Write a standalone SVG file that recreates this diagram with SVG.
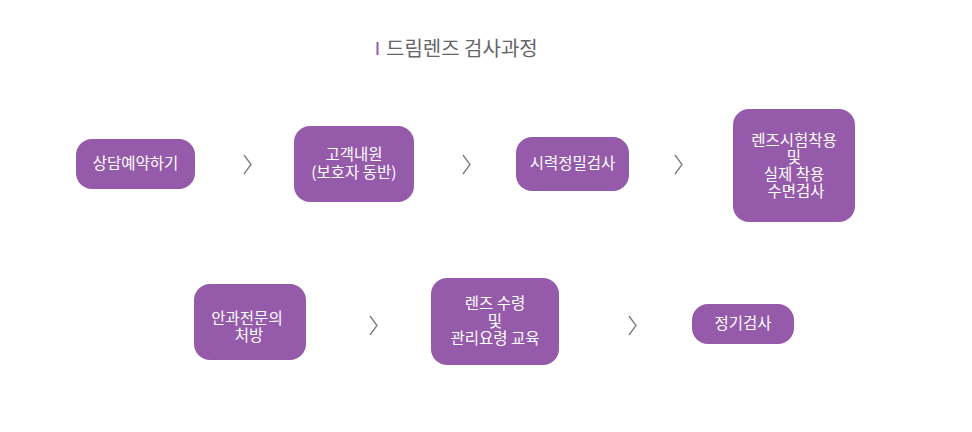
<svg xmlns="http://www.w3.org/2000/svg" width="972" height="432" viewBox="0 0 972 432">
<style>
.box{fill:#955BAA}
.t{font-family:"Noto Sans CJK KR","Noto Sans",sans-serif;font-size:15.5px;fill:#fff;text-anchor:middle}
.chev{fill:none;stroke:#7a7a7a;stroke-width:1.3}
.title{font-family:"Noto Sans CJK KR","Noto Sans",sans-serif;font-size:20px;fill:#666}
</style>
<rect width="972" height="432" fill="#fff"/>
<g id="title">
<rect x="376.5" y="42" width="2" height="13" fill="#955BAA"/>
<text class="title" x="386" y="56">드림렌즈 검사과정</text>
</g>
<g id="connectors">
<polyline class="chev" points="244,155 251,164.5 244,174"/>
<polyline class="chev" points="463,155 470,164.5 463,174"/>
<polyline class="chev" points="675,155 682,164.5 675,174"/>
<polyline class="chev" points="370,316 377,325.5 370,335"/>
<polyline class="chev" points="629,316 636,325.5 629,335"/>
</g>
<g id="n1"><rect class="box" x="76" y="139" width="119" height="50" rx="16"/><text class="t" x="135.5" y="169">상담예약하기</text></g>
<g id="n2"><rect class="box" x="294" y="126" width="120" height="76" rx="16"/><text class="t" x="354" y="160">고객내원</text><text class="t" x="354" y="177.5">(보호자 동반)</text></g>
<g id="n3"><rect class="box" x="516" y="137" width="113" height="54" rx="16"/><text class="t" x="572.5" y="169">시력정밀검사</text></g>
<g id="n4"><rect class="box" x="733" y="109" width="122" height="113" rx="16"/><text class="t" x="794" y="145.5">렌즈시험착용</text><text class="t" x="794" y="162.5">및</text><text class="t" x="794" y="179.5">실제 착용</text><text class="t" x="796" y="197">수면검사</text></g>
<g id="n5"><rect class="box" x="194" y="284" width="112" height="76" rx="16"/><text class="t" x="247" y="324">안과전문의</text><text class="t" x="249" y="341">처방</text></g>
<g id="n6"><rect class="box" x="431" y="278" width="128" height="87" rx="16"/><text class="t" x="495" y="309">렌즈 수령</text><text class="t" x="495" y="327">및</text><text class="t" x="495" y="344">관리요령 교육</text></g>
<g id="n7"><rect class="box" x="692" y="304" width="102" height="40" rx="16"/><text class="t" x="743" y="329">정기검사</text></g>
</svg>
